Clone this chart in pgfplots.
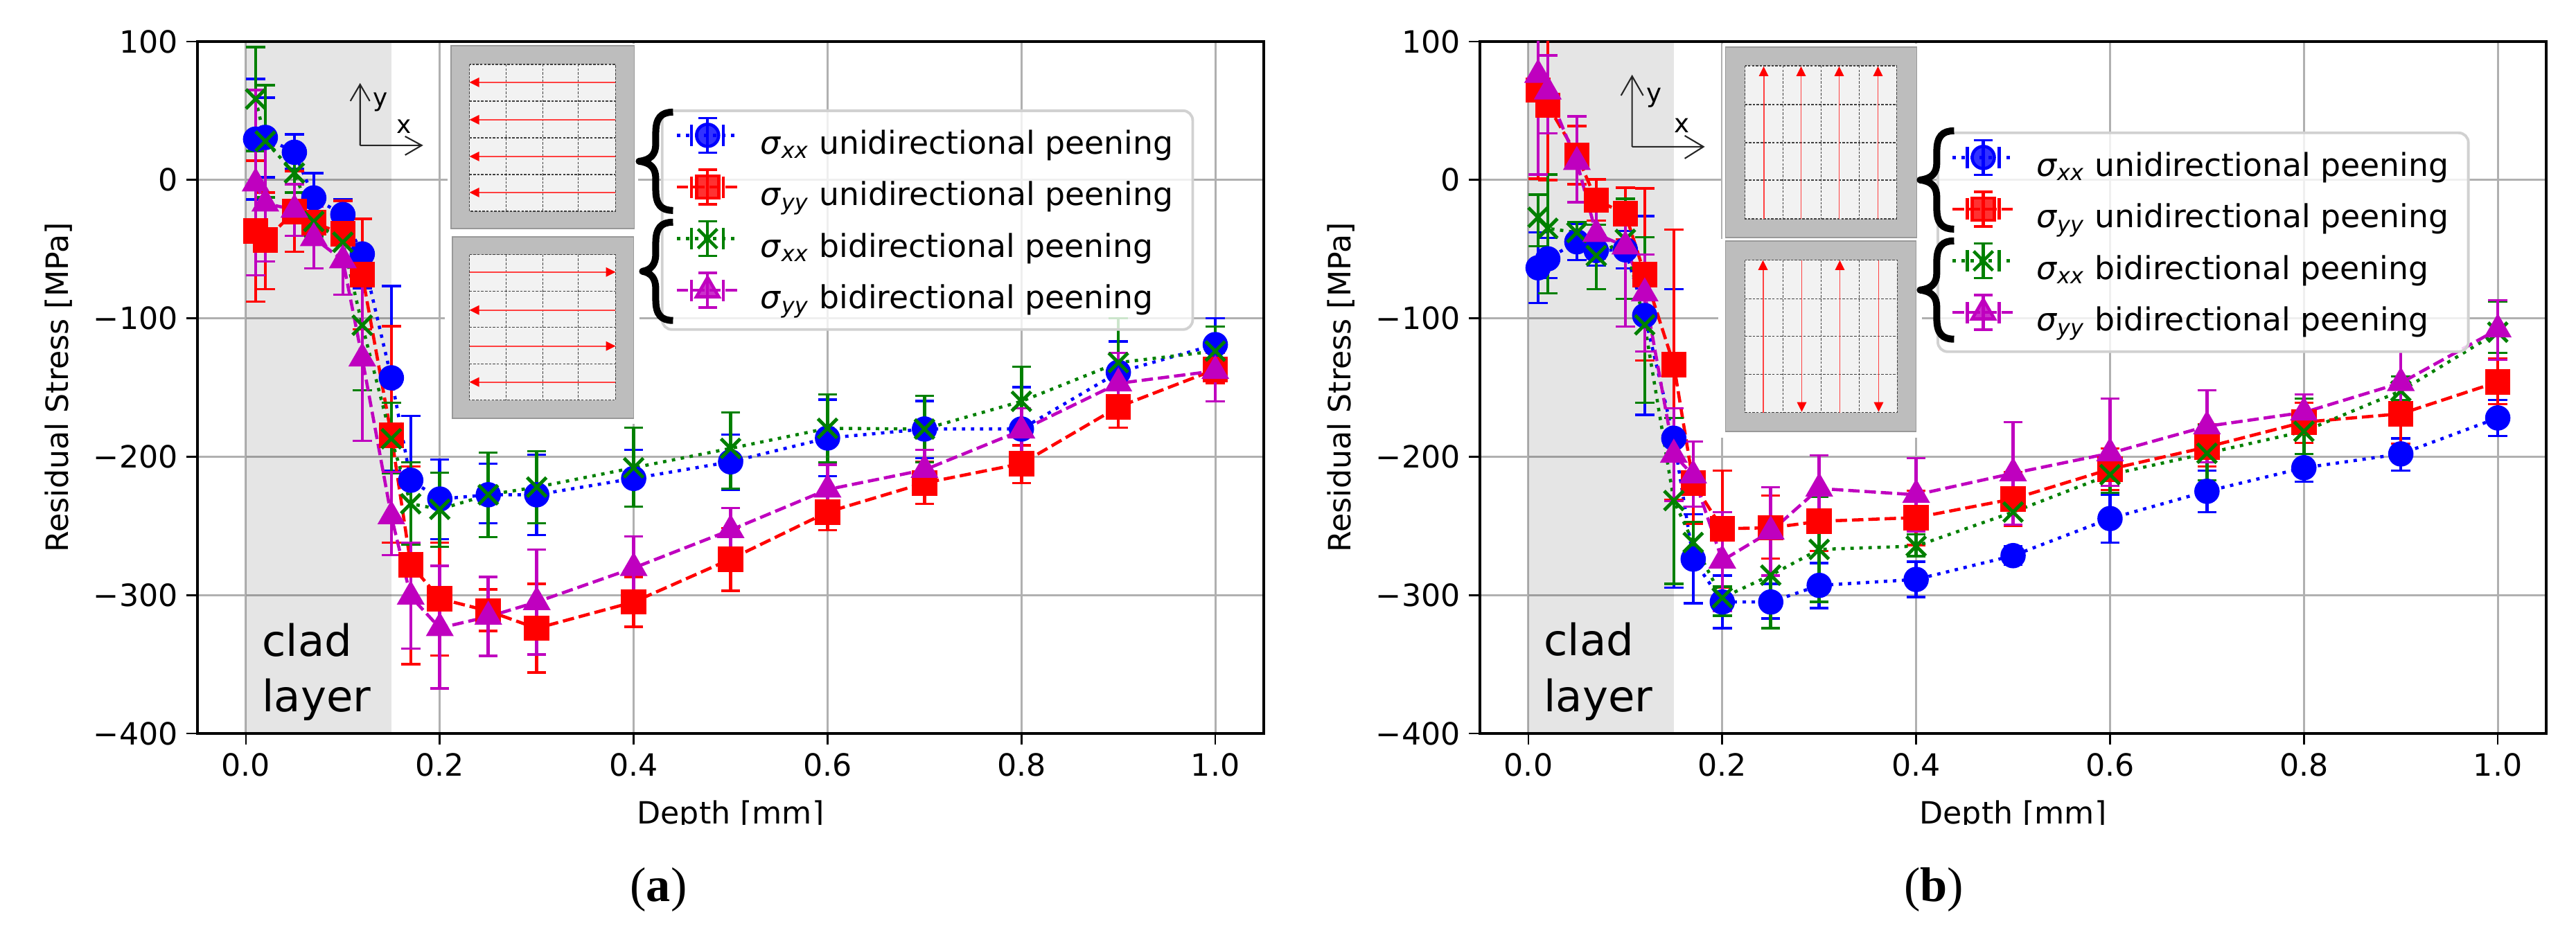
\documentclass[border=0pt]{standalone}
\usepackage{fontspec}
\setmainfont{DejaVu Sans}
\newfontfamily\capfont{Liberation Serif}
\usepackage{pgfplots}
\usepackage{pgfplotstable}
\pgfplotsset{compat=1.18}

\definecolor{cb}{rgb}{0,0,1}
\definecolor{cr}{rgb}{1,0,0}
\definecolor{cg}{rgb}{0,0.5,0}
\definecolor{cm}{rgb}{0.75,0,0.75}

% panel (a): x, y, upper cap, lower cap
\pgfplotstableread{
x y hi lo
0.01 29.5 73 -14
0.02 30.7 59.5 2
0.05 20 33 8
0.07 -13 5 -31
0.1 -25 -14 -36
0.12 -53.5 -28.5 -78.5
0.15 -143 -76.6 -210
0.17 -217 -170.5 -263
0.2 -230.6 -202 -259.5
0.25 -227.5 -205 -248
0.3 -227.5 -198.5 -256.7
0.4 -215.7 -195 -236
0.5 -203.7 -184 -223.7
0.6 -186.5 -158.7 -214
0.7 -180 -159.7 -201
0.8 -180 -149.7 -210
0.9 -139 -116.7 -161
1.0 -119 -100 -138
}\aBx
\pgfplotstableread{
x y hi lo
0.01 -37 14 -88
0.02 -43.5 -9 -79
0.05 -23 6.5 -52
0.07 -31 -19 -43
0.1 -39 -15 -63
0.12 -68.5 -28 -108
0.15 -184.6 -105.7 -262
0.17 -278 -207 -350
0.2 -302.6 -262 -343.6
0.25 -311.5 -296 -326
0.3 -324 -292 -356
0.4 -305 -287 -323
0.5 -274 -251.7 -297
0.6 -240 -227.8 -253
0.7 -219 -203.7 -234
0.8 -205 -191.7 -219
0.9 -164 -148.7 -179
1.0 -137 -125 -147
}\aBy
\pgfplotstableread{
x y hi lo
0.01 58.5 96 21
0.02 28 68.5 -12.5
0.05 5 19 -9
0.07 -30 -19 -41
0.1 -45 -31 -59
0.12 -105 -58 -152
0.15 -187 -161 -212
0.17 -234 -204 -263.5
0.2 -238 -211.6 -265
0.25 -227.5 -197 -258
0.3 -222 -196 -248
0.4 -208 -179 -236
0.5 -194 -168 -223
0.6 -179.5 -155 -204
0.7 -180 -156 -204
0.8 -160 -135 -186
0.9 -132 -100 -164
1.0 -123.7 -106 -141
}\bBx
\pgfplotstableread{
x y hi lo
0.01 -2.5 65 -69
0.02 -17 25 -59
0.05 -21.5 -3 -40.5
0.07 -42 -19 -64
0.1 -58 -33 -83
0.12 -129 -70 -188.5
0.15 -243 -211 -271
0.17 -301 -262 -338.7
0.2 -323.8 -279 -367.5
0.25 -315.6 -287 -344
0.3 -305 -267 -343
0.4 -280.4 -257.6 -303
0.5 -253 -237 -268
0.6 -223.7 -205.7 -242
0.7 -209.5 -195 -224.5
0.8 -181 -165 -197
0.9 -147 -125 -169
1.0 -138 -116 -160
}\bBy
% panel (b)
\pgfplotstableread{
x y hi lo
0.01 -63.5 -38 -89
0.02 -57 -42 -71
0.05 -44.7 -32 -58
0.07 -51 -40 -62
0.1 -50.5 -37 -64
0.12 -98 -26 -169.7
0.15 -186.7 -79 -294.7
0.17 -274 -241.5 -306
0.2 -305 -286 -324
0.25 -305 -292 -317
0.3 -293 -277 -309.5
0.4 -288.7 -276 -301.5
0.5 -271.5 -264.7 -278
0.6 -244.7 -227.5 -262
0.7 -225 -210 -240
0.8 -208 -198 -218
0.9 -198 -186.7 -210
1.0 -172 -159 -185
}\cBx
\pgfplotstableread{
x y hi lo
0.01 65 129 1
0.02 54 108 0
0.05 18 39 -3
0.07 -14.7 0.5 -29.5
0.1 -24.3 -5.5 -43
0.12 -68.3 -6 -130.5
0.15 -133.5 -36 -231
0.17 -219 -189 -248.7
0.2 -252 -210 -294.5
0.25 -251.4 -228 -273.6
0.3 -246.7 -225 -268
0.4 -244 -224.6 -263.8
0.5 -230.5 -211 -250
0.6 -209 -194 -224
0.7 -193 -176.7 -207
0.8 -175 -161 -190
0.9 -169 -147 -190.5
1.0 -146 -129 -162
}\cBy
\pgfplotstableread{
x y hi lo
0.01 -27 -10.5 -48
0.02 -35 4 -82
0.05 -38 -30.5 -46
0.07 -54.7 -32.5 -79
0.1 -43 -13.5 -86
0.12 -104.7 -41.5 -161
0.15 -231.7 -172 -292
0.17 -262 -247 -277
0.2 -302 -294 -315
0.25 -285.6 -247 -324
0.3 -267 -229 -305
0.4 -264.6 -256 -272
0.5 -240 -231 -249
0.6 -213 -199 -226
0.7 -197.5 -177 -217
0.8 -181.7 -158 -198
0.9 -152.5 -142 -159
1.0 -110 -88 -125
}\dBx
\pgfplotstableread{
x y hi lo
0.01 76 148 4
0.02 64 90 33.7
0.05 13 46 -16
0.07 -39 -21 -57
0.1 -48 -33 -106
0.12 -82 -54 -124
0.15 -198.5 -165 -232
0.17 -213.5 -189 -236
0.2 -275 -240 -311.5
0.25 -254 -222 -286
0.3 -223 -199 -247
0.4 -227.5 -201 -254
0.5 -212 -175 -249
0.6 -197.5 -158 -221
0.7 -178 -152 -204
0.8 -168 -155 -181
0.9 -146.7 -124 -170
1.0 -108 -87 -130
}\dBy

\pgfplotsset{
  errhandle/.style n args={4}{legend image code/.code={
    \path[use as bounding box,draw=none,fill=none] (0cm,-0.24cm) rectangle (1.14cm,0.30cm);
    \begin{scope}[yshift=0.12cm,sharp corners]
    \draw[color=#1,line width=1.3pt,#2] (0cm,0cm) -- (0.89cm,0cm);
    \draw[color=#1,solid,line width=1.2pt] (0.445cm,-0.25cm) -- (0.445cm,0.25cm);
    \draw[color=#1,solid,line width=1pt] (0.31cm,-0.25cm) -- (0.58cm,-0.25cm) (0.31cm,0.25cm) -- (0.58cm,0.25cm);
    \draw[color=#1,solid,line width=1.2pt] (0.215cm,-0.155cm) -- (0.215cm,0.155cm) (0.675cm,-0.155cm) -- (0.675cm,0.155cm);
    \draw[color=#1,solid,line width=1.3pt,mark=#3,mark size=#4,mark options={solid,fill=#1}] plot coordinates {(0.445cm,0cm)};
    \end{scope}
  }},
  panel/.style={
    scale only axis, width=15.39cm, height=9.99cm,
    xmin=-0.05, xmax=1.05, ymin=-400, ymax=100,
    xtick={0,0.2,0.4,0.6,0.8,1.0},
    xticklabels={0.0,0.2,0.4,0.6,0.8,1.0},
    ytick={-400,-300,-200,-100,0,100},
    yticklabels={−400,−300,−200,−100,0,100},
    tick label style={font=\fontsize{12.6}{15}\selectfont},
    xtick pos=bottom, ytick pos=left, tick align=outside,
    major tick length=4.55pt,
    tick style={black,line width=0.75pt},
    axis line style={black,line width=1.15pt},
    grid=major, grid style={draw=black!31,line width=0.85pt},
    xlabel={Depth [mm]}, ylabel={Residual Stress [MPa]},
    xlabel style={font=\fontsize{12.6}{15}\selectfont,at={(axis description cs:0.5,0)},anchor=base,yshift=-1.3cm*0.9-0.13cm},
    every axis y label/.style={at={(axis description cs:-0.13,0.5)},rotate=90,anchor=center,font=\fontsize{12.6}{15}\selectfont},
    legend cell align=left,
    legend style={font=\fontsize{13}{15}\selectfont,fill=white,fill opacity=0.8,text opacity=1,
      draw=black!18,line width=1.1pt,rounded corners=4pt,anchor=north west,
      inner xsep=6pt,inner ysep=5pt,row sep=5pt},
  },
  sx/.style={color=cb,line width=1.3pt,dash pattern=on 1.4pt off 2.3pt,mark=*,mark size=4.55pt,mark options={solid,fill=cb,draw=none}},
  sy/.style={color=cr,line width=1.3pt,dash pattern=on 4.7pt off 2pt,mark=square*,mark size=4.55pt,mark options={solid,fill=cr,draw=none}},
  bx/.style={color=cg,line width=1.3pt,dash pattern=on 1.4pt off 2.3pt,mark=x,mark size=5.6pt,mark options={solid,line width=1.4pt}},
  by/.style={color=cm,line width=1.3pt,dash pattern=on 4.7pt off 2pt,mark=triangle*,mark size=5.3pt,mark options={solid,fill=cm,draw=none}},
  bars/.style={error bars/.cd,y dir=both,y explicit,
    error bar style={solid,line width=1.3pt},
    error mark options={solid,rotate=90,mark size=3.9pt,line width=1pt,color=#1}},
}
\newcommand{\series}[3]{%
  \addplot[#1,bars=#2] table[x=x,y=y,y error plus expr=\thisrow{hi}-\thisrow{y},y error minus expr=\thisrow{y}-\thisrow{lo}] {#3};}
\newcommand{\fourseries}[4]{%
  \addplot[draw=none,fill=black,fill opacity=0.1,forget plot] coordinates {(0,-400)(0.15,-400)(0.15,100)(0,100)} -- cycle;
  \series{sx,errhandle={cb}{dash pattern=on 1.4pt off 2.3pt}{*}{4.55pt}}{cb}{#1}
  \series{sy,errhandle={cr}{dash pattern=on 4.7pt off 2pt}{square*}{4.55pt}}{cr}{#2}
  \series{bx,errhandle={cg}{dash pattern=on 1.4pt off 2.3pt}{x}{5.6pt}}{cg}{#3}
  \series{by,errhandle={cm}{dash pattern=on 4.7pt off 2pt}{triangle*}{5.3pt}}{cm}{#4}
  \addlegendentry{\textit{σ}\textsubscript{\textit{xx}} unidirectional peening}
  \addlegendentry{\textit{σ}\textsubscript{\textit{yy}} unidirectional peening}
  \addlegendentry{\textit{σ}\textsubscript{\textit{xx}} bidirectional peening}
  \addlegendentry{\textit{σ}\textsubscript{\textit{yy}} bidirectional peening}
}
% brace: tip x, right x, top y
\newcommand{\curly}[3]{%
  \begin{scope}[shift={(#2,#3)}]
  \draw[black,line width=2.85pt,line join=round] (0,4) .. controls (-17,4) and (-25,12) .. (-25,34) -- (-25,50)
    .. controls (-25,65) and (-32,73) .. ({#1-#2+3},75) .. controls (-32,77) and (-25,85) .. (-25,100)
    -- (-25,116) .. controls (-25,138) and (-17,146) .. (0,146);
  \end{scope}}
% inset panel: outer box, inner box, grid lines
\newcommand{\inset}[8]{%
  \fill[black!26] (#1,#2) rectangle (#3,#4);
  \draw[black!40,line width=0.5pt] (#1,#2) rectangle (#3,#4);
  \fill[black!5] (#5,#6) rectangle (#7,#8);
  \draw[black!75,line width=0.4pt,dash pattern=on 1pt off 0.6pt] (#5,#6) rectangle (#7,#8);}
\tikzset{grl/.style={black!75,line width=0.4pt,dash pattern=on 1pt off 0.6pt},
  shot/.style={red!75,line width=0.55pt},
  head/.style={fill=red,draw=none}}

\begin{document}
\begin{tikzpicture}[x=1cm,y=1cm]
\useasboundingbox (0,0) rectangle (37.18,13.36);

\begin{axis}[panel,at={(2.85cm,2.77cm)},anchor=south west,
  legend style={at={(axis cs:0.428,51)}}]
\fourseries{\aBx}{\aBy}{\bBx}{\bBy}
\end{axis}

\begin{axis}[panel,at={(21.36cm,2.77cm)},anchor=south west,
  legend style={at={(axis cs:0.421,35)}}]
\fourseries{\cBx}{\cBy}{\dBx}{\dBy}
\end{axis}

% everything below is decoration, given in pixels from the top left
\begin{scope}[yshift=13.36cm,x=0.01cm,y=-0.01cm]
% the x label is cut off just under its baseline in the original
\fill[white] (900,1192) rectangle (1215,1240);
\fill[white] (2750,1192) rectangle (3065,1240);
% panel (a) insets
\fill[white] (646,63) rectangle (922,336);
\fill[white] (642,336) rectangle (924,612);
\inset{651}{66}{916}{330}{678}{93}{889}{305}
\draw[grl] (731,93)--(731,305) (784,93)--(784,305) (835,93)--(835,305) (678,146)--(889,146) (678,199)--(889,199) (678,252)--(889,252);
\foreach \yy in {119,173,226,278}{\draw[shot] (889,\yy)--(690,\yy); \fill[head] (678,\yy)--(692,\yy-7)--(692,\yy+7)--cycle;}
\inset{653}{342}{915}{604}{678}{368}{889}{578}
\draw[grl] (731,368)--(731,578) (784,368)--(784,578) (835,368)--(835,578) (678,421)--(889,421) (678,473)--(889,473) (678,526)--(889,526);
\foreach \yy in {448,552}{\draw[shot] (889,\yy)--(690,\yy); \fill[head] (678,\yy)--(692,\yy-7)--(692,\yy+7)--cycle;}
\foreach \yy in {393,500}{\draw[shot] (678,\yy)--(877,\yy); \fill[head] (889,\yy)--(875,\yy-7)--(875,\yy+7)--cycle;}
% panel (b) insets
\fill[white] (2487,63) rectangle (2772,345);
\fill[white] (2481,345) rectangle (2776,632);
\inset{2492}{68}{2768}{343}{2520}{95}{2739}{316}
\draw[grl] (2575,95)--(2575,316) (2630,95)--(2630,316) (2685,95)--(2685,316) (2520,151)--(2739,151) (2520,206)--(2739,206) (2520,260)--(2739,260);
\foreach \xx in {2547,2601,2656,2712}{\draw[shot] (\xx,316)--(\xx,108); \fill[head] (\xx,96)--(\xx-7,110)--(\xx+7,110)--cycle;}
\inset{2492}{348}{2767}{623}{2520}{376}{2740}{596}
\draw[grl] (2575,376)--(2575,596) (2630,376)--(2630,596) (2685,376)--(2685,596) (2520,432)--(2740,432) (2520,486)--(2740,486) (2520,541)--(2740,541);
\foreach \xx in {2546,2657}{\draw[shot] (\xx,596)--(\xx,388); \fill[head] (\xx,376)--(\xx-7,390)--(\xx+7,390)--cycle;}
\foreach \xx in {2602,2713}{\draw[shot] (\xx,376)--(\xx,584); \fill[head] (\xx,595)--(\xx-7,581)--(\xx+7,581)--cycle;}
% braces
\curly{920}{972}{158}
\curly{925}{972}{317}
\curly{2770}{2822}{185}
\curly{2770}{2822}{344}
% coordinate arrows
\draw[black!85,line width=0.6pt] (520,210)--(520,122) (506,146)--(520,122)--(534,146) (520,210)--(609,210) (585,197)--(609,210)--(585,224);
\node[anchor=base west,inner sep=0pt,font=\fontsize{10.2}{12}\selectfont] at (538,154) {y};
\node[anchor=base west,inner sep=0pt,font=\fontsize{10.2}{12}\selectfont] at (572,193) {x};
\draw[black!85,line width=0.6pt] (2357,212)--(2357,110) (2341,138)--(2357,110)--(2373,138) (2357,212)--(2460,212) (2433,196)--(2460,212)--(2433,229);
\node[anchor=base west,inner sep=0pt,font=\fontsize{10.6}{12}\selectfont] at (2377,148) {y};
\node[anchor=base west,inner sep=0pt,font=\fontsize{10.6}{12}\selectfont] at (2417,192) {x};
% clad layer labels
\node[anchor=base west,inner sep=0pt,font=\fontsize{17.8}{20}\selectfont] at (378,948) {clad};
\node[anchor=base west,inner sep=0pt,font=\fontsize{17.8}{20}\selectfont] at (378,1028) {layer};
\node[anchor=base west,inner sep=0pt,font=\fontsize{17.8}{20}\selectfont] at (2229,947) {clad};
\node[anchor=base west,inner sep=0pt,font=\fontsize{17.8}{20}\selectfont] at (2229,1028) {layer};
% sub captions
\node[anchor=base,inner sep=0pt,font=\capfont\fontsize{20}{24}\selectfont] at (951,1302) {(\textbf{a})};
\node[anchor=base,inner sep=0pt,font=\capfont\fontsize{20}{24}\selectfont] at (2793,1302) {(\textbf{b})};
\end{scope}
\end{tikzpicture}
\end{document}
